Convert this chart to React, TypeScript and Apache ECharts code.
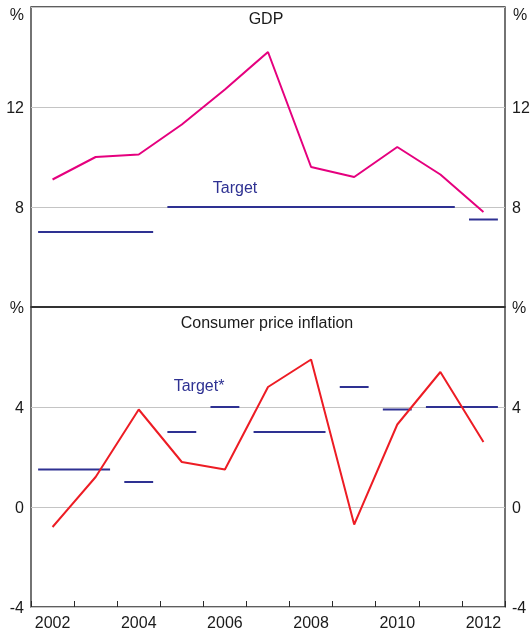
import React, { useEffect, useRef } from 'react';
import * as echarts from 'echarts';

const years = [2002, 2003, 2004, 2005, 2006, 2007, 2008, 2009, 2010, 2011, 2012];
const gdp = [9.1, 10.0, 10.1, 11.3, 12.7, 14.2, 9.6, 9.2, 10.4, 9.3, 7.8];
const cpi = [-0.8, 1.2, 3.9, 1.8, 1.5, 4.8, 5.9, -0.7, 3.3, 5.4, 2.6];

const gdpTargetFrom = [2002, 2005, 2012];
const gdpTargetTo = [2004, 2011, 2012];
const gdpTargetValue = [7, 8, 7.5];

const cpiTargetFrom = [2002, 2004, 2005, 2006, 2007, 2009, 2010, 2011];
const cpiTargetTo = [2003, 2004, 2005, 2006, 2008, 2009, 2010, 2012];
const cpiTargetValue = [1.5, 1, 3, 4, 3, 4.8, 3.9, 4];

const gdpTicks = [4, 8, 12, 16];
const cpiTicks = [-4, 0, 4, 8];

const FONT = '"Liberation Sans", Arial, sans-serif';
const NAVY = '#2e3192';
const TEXT = '#1a1a1a';
const GAP = 0.165;

export default function App() {
  const ref = useRef<HTMLDivElement>(null);
  useEffect(() => {
    const chart = echarts.init(ref.current!, null, { renderer: 'svg' });
    const L = 31, W = 474, H = 300, T1 = 7, T2 = 307;

    const segs = (from: number[], to: number[], val: number[], xi: number, yi: number) =>
      from.map((f, i) => ({
        type: 'line',
        xAxisIndex: xi,
        yAxisIndex: yi,
        data: [[f - 0.5 + GAP, val[i]], [to[i] + 0.5 - GAP, val[i]]],
        symbol: 'none',
        silent: true,
        lineStyle: { color: NAVY, width: 2 },
        z: 3,
      }));

    const yLabel = (show: number[], pct?: number) => (v: number) =>
      v === pct ? '%' : show.includes(v) ? String(v) : '';

    const yBase = (grid: number, min: number, max: number, pos: 'left' | 'right', fmt: any, split: boolean) => ({
      type: 'value',
      gridIndex: grid,
      position: pos,
      min,
      max,
      interval: 4,
      axisLine: { show: false },
      axisTick: { show: false },
      axisLabel: { formatter: fmt, fontSize: 16, color: TEXT, fontFamily: FONT, margin: 7 },
      splitLine: { show: split, lineStyle: { color: '#c4c4c4', width: 1 } },
    });

    chart.setOption({
      animation: false,
      grid: [
        { left: L, top: T1, width: W, height: H, show: true, borderColor: '#2a2a2a', borderWidth: 1.3, containLabel: false, outerBoundsMode: 'none' },
        { left: L, top: T2, width: W, height: H, show: true, borderColor: '#2a2a2a', borderWidth: 1.3, containLabel: false, outerBoundsMode: 'none' },
      ],
      xAxis: [
        { type: 'value', gridIndex: 0, position: 'bottom', min: 2001.5, max: 2012.5, show: false },
        { type: 'value', gridIndex: 1, position: 'top', min: 2001.5, max: 2012.5, show: false },
        {
          type: 'category',
          gridIndex: 1,
          position: 'bottom',
          data: years.map(String),
          boundaryGap: true,
          axisLine: { show: false, onZero: false },
          axisTick: { show: true, inside: true, length: 6, interval: 0, lineStyle: { color: '#2a2a2a' } },
          axisLabel: { interval: 1, fontSize: 16, color: TEXT, fontFamily: FONT, margin: 7 },
          splitLine: { show: false },
        },
      ],
      yAxis: [
        yBase(0, gdpTicks[0], gdpTicks[3], 'left', yLabel([8, 12]), true),
        yBase(0, gdpTicks[0], gdpTicks[3], 'right', yLabel([8, 12]), false),
        yBase(1, cpiTicks[0], cpiTicks[3], 'left', yLabel([-4, 0, 4], 8), true),
        yBase(1, cpiTicks[0], cpiTicks[3], 'right', yLabel([-4, 0, 4], 8), false),
      ],
      series: [
        {
          type: 'line',
          xAxisIndex: 0,
          yAxisIndex: 0,
          data: years.map((y, i) => [y, gdp[i]]),
          symbol: 'none',
          lineStyle: { color: '#e5007e', width: 2 },
          z: 4,
        },
        {
          type: 'line',
          xAxisIndex: 1,
          yAxisIndex: 2,
          data: years.map((y, i) => [y, cpi[i]]),
          symbol: 'none',
          lineStyle: { color: '#ed1c24', width: 2 },
          z: 4,
        },
        ...segs(gdpTargetFrom, gdpTargetTo, gdpTargetValue, 0, 0),
        ...segs(cpiTargetFrom, cpiTargetTo, cpiTargetValue, 1, 2),
      ],
      graphic: [
        { type: 'line', shape: { x1: L, y1: T2, x2: L + W, y2: T2 }, style: { stroke: '#333', lineWidth: 2 }, z: 10 },
        { type: 'text', x: 24, y: 14, style: { text: '%', fill: TEXT, font: `16px ${FONT}`, align: 'right', verticalAlign: 'middle' } },
        { type: 'text', x: 513, y: 14, style: { text: '%', fill: TEXT, font: `16px ${FONT}`, align: 'left', verticalAlign: 'middle' } },
        { type: 'text', x: 266, y: 18, style: { text: 'GDP', fill: TEXT, font: `16px ${FONT}`, align: 'center', verticalAlign: 'middle' } },
        { type: 'text', x: 267, y: 322, style: { text: 'Consumer price inflation', fill: TEXT, font: `16px ${FONT}`, align: 'center', verticalAlign: 'middle' } },
        { type: 'text', x: 235, y: 187, style: { text: 'Target', fill: NAVY, font: `16px ${FONT}`, align: 'center', verticalAlign: 'middle' } },
        { type: 'text', x: 199, y: 385, style: { text: 'Target*', fill: NAVY, font: `16px ${FONT}`, align: 'center', verticalAlign: 'middle' } },
      ],
    });
    return () => chart.dispose();
  }, []);
  return <div ref={ref} style={{ position: 'fixed', left: 0, top: 0, width: 530, height: 630 }} />;
}
